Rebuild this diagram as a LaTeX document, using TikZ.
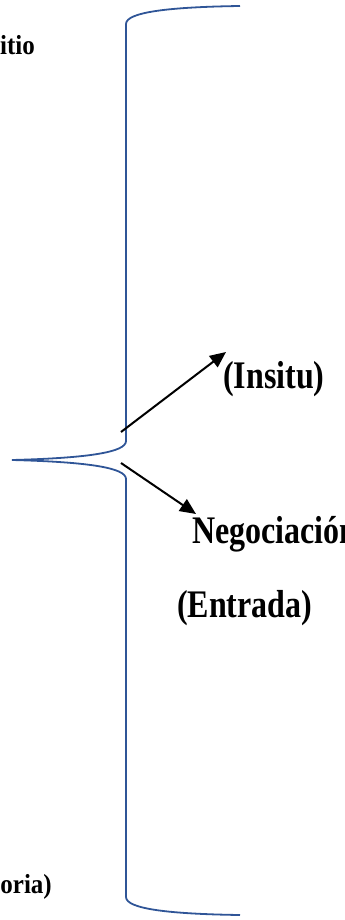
\documentclass[tikz,border=0pt]{standalone}
\usepackage{fontspec}
\setmainfont{Liberation Serif}
\usetikzlibrary{arrows.meta}
\definecolor{braceblue}{RGB}{47,85,151}
\begin{document}
\begin{tikzpicture}[x=1pt,y=-1pt,
  bracestyle/.style={draw=braceblue,line width=1.8pt},
  arr/.style={draw=black,line width=2pt,-{Triangle[length=16pt,width=14pt]}},
  biglabel/.style={font=\fontsize{32}{38}\selectfont\bfseries,inner sep=0pt},
  smalllabel/.style={font=\fontsize{25}{30}\selectfont\bfseries,inner sep=0pt}]
\useasboundingbox (0,0) rectangle (345,920);
% brace
\draw[bracestyle] (240,6) .. controls (170,7) and (126,12) .. (126,24)
  -- (126,441) .. controls (126,452) and (90,458) .. (12,460)
  .. controls (90,462) and (126,468) .. (126,479)
  -- (126,897) .. controls (126,909) and (170,914) .. (240,915);
% labels
\node[smalllabel,anchor=base east] (sitio) at (35,55) {\scalebox{1}[1.1]{itio}};
\node[biglabel,anchor=base west] (insitu) at (223,388) {\scalebox{1}[1.22]{(Insitu)}};
\node[biglabel,anchor=base west] (negoc) at (192,543) {\scalebox{1}[1.22]{Negociación}};
\node[biglabel,anchor=base west] (entrada) at (177,617) {\scalebox{1}[1.22]{(Entrada)}};
\node[smalllabel,anchor=base east] (oria) at (52,893) {\scalebox{1}[1.1]{oria)}};
% arrows
\coordinate (a1s) at (121,432);
\coordinate (a1e) at (226,352);
\coordinate (a2s) at (121,463);
\coordinate (a2e) at (196,514);
\draw[arr] (a1s) -- (a1e);
\draw[arr] (a2s) -- (a2e);
\end{tikzpicture}
\end{document}
